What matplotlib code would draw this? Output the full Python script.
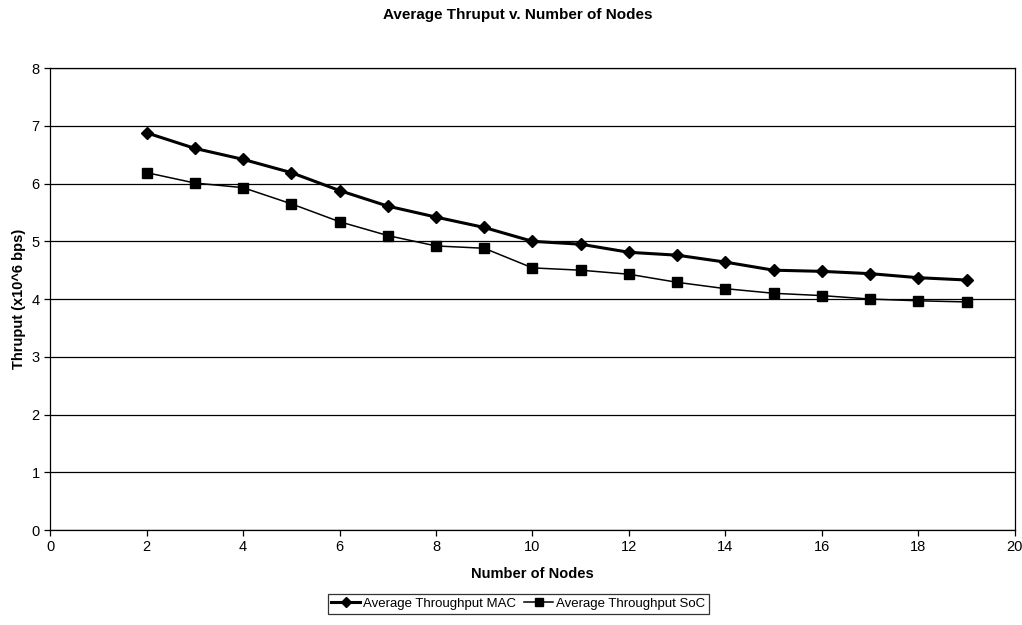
import matplotlib.pyplot as plt

plt.rcParams['font.family'] = ['Liberation Sans', 'DejaVu Sans']

# Number of nodes in the network
nodes = [2, 3, 4, 5, 6, 7, 8, 9, 10, 11, 12, 13, 14, 15, 16, 17, 18, 19]

# Average throughput (x10^6 bps)
thru_mac = [6.88, 6.61, 6.42, 6.19, 5.88, 5.61, 5.42, 5.24, 5.00,
            4.95, 4.81, 4.76, 4.64, 4.50, 4.48, 4.44, 4.37, 4.33]
thru_soc = [6.19, 6.01, 5.93, 5.65, 5.34, 5.10, 4.92, 4.88, 4.54,
            4.50, 4.43, 4.29, 4.18, 4.10, 4.06, 4.00, 3.97, 3.95]

fig = plt.figure(figsize=(10.22, 6.25), dpi=100)
ax = fig.add_axes([0.049, 0.152, 0.944, 0.739])

ax.plot(nodes, thru_mac, color='black', linewidth=2.2, marker='D',
        markersize=6.5, label='Average Throughput MAC')
ax.plot(nodes, thru_soc, color='black', linewidth=1.1, marker='s',
        markersize=6.5, label='Average Throughput SoC')

ax.set_xlim(0, 20)
ax.set_ylim(0, 8)
ax.set_xticks(range(0, 21, 2))
ax.set_yticks(range(0, 9))
ax.yaxis.grid(True, color='black', linewidth=0.9)
ax.set_axisbelow(True)
for s in ax.spines.values():
    s.set_color('black')
    s.set_linewidth(0.9)
ax.tick_params(axis='both', direction='out', length=4, width=0.9,
               labelsize=10.5, colors='black')

ax.set_xlabel('Number of Nodes', fontsize=10.5, fontweight='bold', labelpad=9)
ax.set_ylabel('Thruput (x10^6 bps)', fontsize=10.5, fontweight='bold', labelpad=4)
fig.suptitle('Average Thruput v. Number of Nodes', fontsize=11, fontweight='bold',
             x=0.507, y=0.988)

leg = fig.legend(loc='center', bbox_to_anchor=(0.507, 0.034), ncol=2,
                 fontsize=9.5, frameon=True, fancybox=False, edgecolor='black',
                 handlelength=2.2, handletextpad=0.2, columnspacing=0.6,
                 borderpad=0.3, markerscale=0.8)
leg.get_frame().set_linewidth(0.9)

fig.savefig('out.png', dpi=100)
